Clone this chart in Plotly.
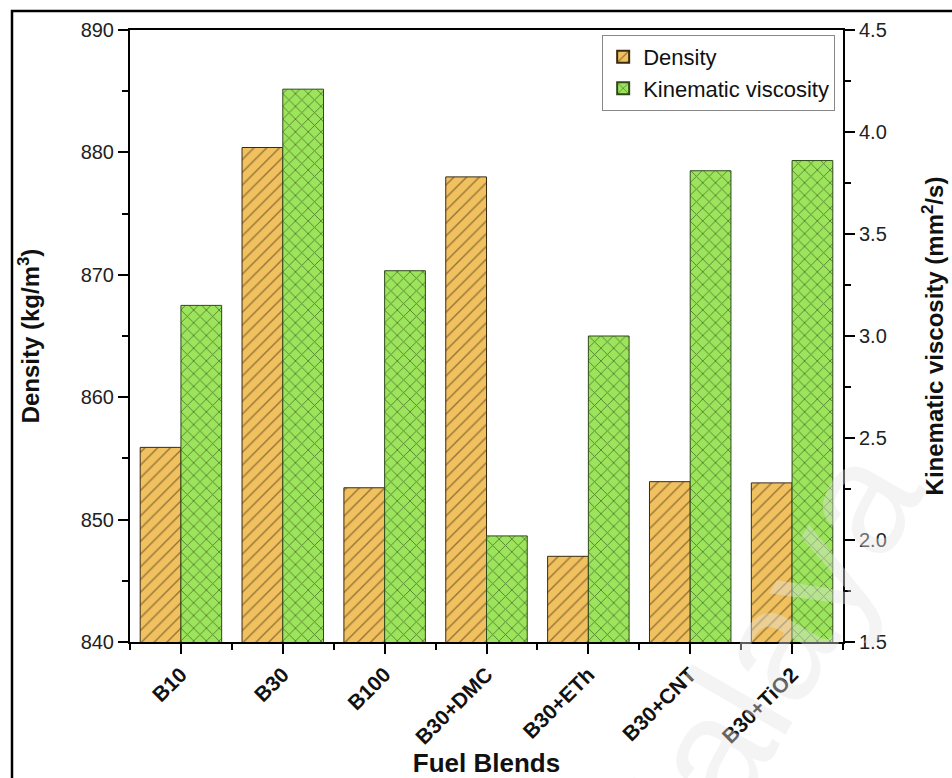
import plotly.graph_objects as go

# Fuel blend properties
blends = ["B10", "B30", "B100", "B30+DMC", "B30+ETh", "B30+CNT", "B30+TiO2"]
density = [855.9, 880.4, 852.6, 878.0, 847.0, 853.1, 853.0]          # kg/m3
viscosity = [3.15, 4.21, 3.32, 2.02, 3.00, 3.81, 3.86]               # mm2/s

xpos = list(range(1, len(blends) + 1))

ORANGE = "#F1C15F"
GREEN = "#9CE45B"
FONT = "Liberation Sans, Arial, sans-serif"

fig = go.Figure()

fig.add_trace(go.Bar(
    x=xpos, y=density, name="Density", yaxis="y",
    width=0.4, offset=-0.4,
    marker=dict(color=ORANGE, line=dict(color="#3a2a10", width=1),
                pattern=dict(shape="/", fillmode="overlay", bgcolor=ORANGE,
                             fgcolor="#3a2a10", size=9, solidity=0.16)),
))
fig.add_trace(go.Bar(
    x=xpos, y=viscosity, name="Kinematic viscosity", yaxis="y2",
    width=0.4, offset=0.0,
    marker=dict(color=GREEN, line=dict(color="#2f4a1a", width=1),
                pattern=dict(shape="x", fillmode="overlay", bgcolor=GREEN,
                             fgcolor="#14240a", size=9, solidity=0.2)),
))

tickfont = dict(family=FONT, size=20, color="#222")

fig.update_layout(
    width=952, height=778,
    margin=dict(l=130, r=109, t=30, b=136),
    paper_bgcolor="white", plot_bgcolor="white",
    font=dict(family=FONT, color="#111"),
    showlegend=True,
    legend=dict(x=0.989, y=0.992, xanchor="right", yanchor="top",
                bgcolor="white", bordercolor="#888", borderwidth=1,
                font=dict(family=FONT, size=22, color="#111"),
                itemsizing="constant", tracegroupgap=0),
    xaxis=dict(
        range=[0.5, 7.5], tickmode="array", tickvals=xpos,
        ticktext=[f"<b>{b}</b>" for b in blends], tickangle=-45,
        tickfont=dict(family=FONT, size=21, color="#111"),
        showline=True, linecolor="black", linewidth=2, mirror=True,
        ticks="outside", ticklen=10, tickwidth=1.5, tickcolor="black",
        minor=dict(tick0=0.5, dtick=1, ticks="outside", ticklen=6,
                   tickwidth=1.5, tickcolor="black"),
        showgrid=False, zeroline=False, automargin=False,
        title=dict(text="<b>Fuel Blends</b>",
                   font=dict(family=FONT, size=26, color="#111"), standoff=18),
    ),
    yaxis=dict(
        range=[840, 890], dtick=10, tick0=840,
        tickfont=tickfont,
        showline=True, linecolor="black", linewidth=2,
        ticks="outside", ticklen=10, tickwidth=1.5, tickcolor="black",
        minor=dict(dtick=5, ticks="outside", ticklen=6, tickwidth=1.5,
                   tickcolor="black"),
        showgrid=False, zeroline=False, automargin=False,
        title=dict(text="<b>Density (kg/m<sup>3</sup>)</b>",
                   font=dict(family=FONT, size=24, color="#111"), standoff=34),
    ),
    yaxis2=dict(
        range=[1.5, 4.5], dtick=0.5, tick0=1.5, tickformat=".1f",
        overlaying="y", side="right",
        tickfont=tickfont,
        showline=True, linecolor="black", linewidth=2,
        ticks="outside", ticklen=10, tickwidth=1.5, tickcolor="black",
        minor=dict(dtick=0.25, ticks="outside", ticklen=6, tickwidth=1.5,
                   tickcolor="black"),
        showgrid=False, zeroline=False, automargin=False,
        title=dict(text="<b>Kinematic viscosity (mm<sup>2</sup>/s)</b>",
                   font=dict(family=FONT, size=24, color="#111"), standoff=40),
    ),
    shapes=[dict(type="rect", xref="paper", yref="paper",
                 x0=-0.1655, x1=1.3, y0=-0.4, y1=1.031,
                 line=dict(color="black", width=2.5), layer="above")],
    annotations=[dict(text="Malaya", xref="paper", yref="paper",
                      x=0.87, y=-0.07, xanchor="center", yanchor="middle",
                      showarrow=False, textangle=-60,
                      font=dict(family=FONT, size=160,
                                color="rgba(228,228,228,0.4)"))],
)

fig.write_html("out.html")
